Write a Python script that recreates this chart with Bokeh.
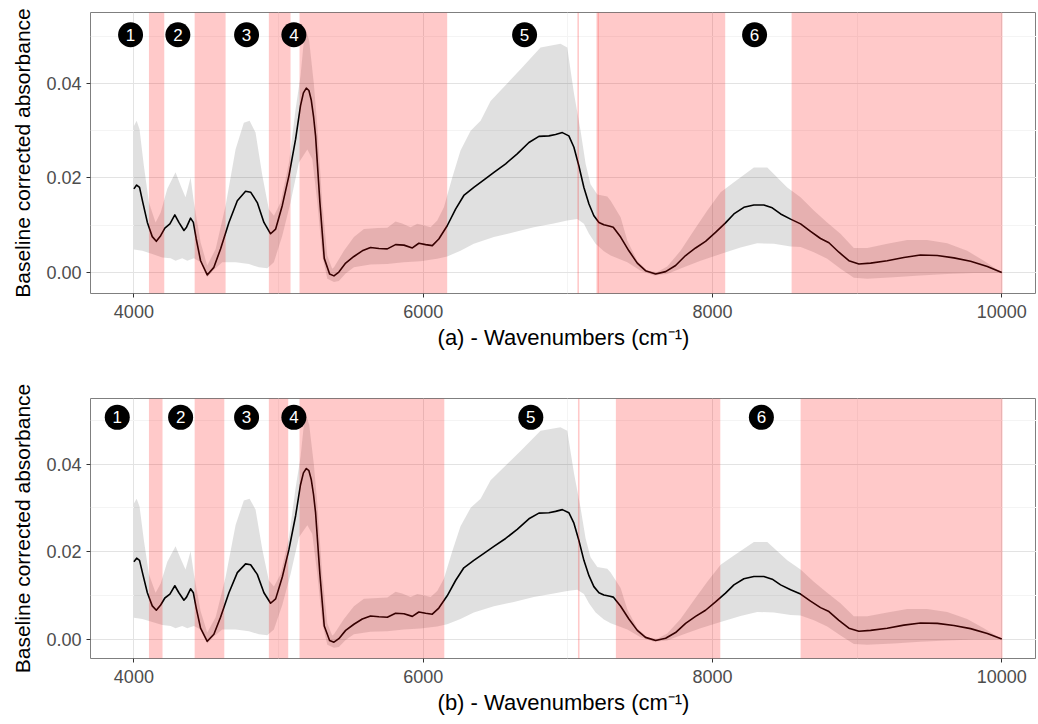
from bokeh.plotting import figure
from bokeh.models import Range1d, FixedTicker, PrintfTickFormatter, BoxAnnotation
from bokeh.layouts import column
from bokeh.embed import file_html
from bokeh.resources import INLINE
from bokeh.core.properties import value

# ---------------- data ----------------
mean_x = [4000, 4019, 4039, 4062, 4093, 4127, 4155, 4185, 4214, 4249, 4283, 4311, 4346, 4364,
          4392, 4411, 4431, 4461, 4507, 4553, 4599, 4657, 4715, 4772, 4807, 4853, 4899, 4945,
          4980, 5026, 5072, 5118, 5152, 5172, 5192, 5210, 5226, 5242, 5256, 5286, 5316, 5353,
          5383, 5417, 5464, 5521, 5579, 5636, 5694, 5752, 5809, 5867, 5925, 5970, 6017, 6063,
          6108, 6166, 6224, 6281, 6350, 6420, 6489, 6570, 6650, 6731, 6800, 6869, 6915, 6962,
          7007, 7042, 7076, 7111, 7146, 7180, 7215, 7249, 7291, 7314, 7365, 7422, 7480, 7537,
          7607, 7676, 7745, 7814, 7883, 7952, 8021, 8090, 8148, 8217, 8286, 8355, 8413, 8471,
          8540, 8609, 8678, 8747, 8805, 8874, 8943, 9012, 9093, 9208, 9323, 9438, 9554, 9669,
          9784, 9900, 10000]
mean_y = [0.0177, 0.0185, 0.0180, 0.0148, 0.0106, 0.0076, 0.0066, 0.0078, 0.0094, 0.0103, 0.0122,
          0.0106, 0.0089, 0.0096, 0.0115, 0.0106, 0.0071, 0.0025, -0.0005, 0.0011, 0.0050, 0.0106,
          0.0152, 0.0172, 0.0170, 0.0148, 0.0106, 0.0082, 0.0092, 0.0142, 0.0205, 0.0282, 0.0353,
          0.0380, 0.0390, 0.0385, 0.0365, 0.0330, 0.0289, 0.0148, 0.0030, -0.0003, -0.0007, 0.0001,
          0.0020, 0.0034, 0.0046, 0.0053, 0.0051, 0.0050, 0.0059, 0.0058, 0.0052, 0.0062, 0.0059,
          0.0057, 0.0071, 0.0099, 0.0134, 0.0163, 0.0180, 0.0196, 0.0212, 0.0230, 0.0251, 0.0275,
          0.0288, 0.0289, 0.0292, 0.0296, 0.0289, 0.0265, 0.0226, 0.0180, 0.0145, 0.0120, 0.0106,
          0.0101, 0.0098, 0.0096, 0.0075, 0.0046, 0.0020, 0.0004, -0.0003, 0.0002, 0.0015, 0.0036,
          0.0052, 0.0066, 0.0085, 0.0105, 0.0124, 0.0138, 0.0143, 0.0143, 0.0137, 0.0124, 0.0113,
          0.0103, 0.0087, 0.0072, 0.0063, 0.0043, 0.0025, 0.0018, 0.0020, 0.0025, 0.0032, 0.0037,
          0.0036, 0.0031, 0.0024, 0.0013, 0.0000]

upper_x = [4000, 4019, 4039, 4069, 4104, 4150, 4185, 4231, 4288, 4323, 4357, 4392, 4415, 4461,
           4507, 4565, 4634, 4703, 4760, 4800, 4841, 4888, 4933, 4968, 5014, 5072, 5118, 5152,
           5175, 5192, 5212, 5244, 5268, 5302, 5337, 5371, 5383, 5452, 5521, 5590, 5683, 5752,
           5809, 5855, 5913, 5959, 6005, 6051, 6097, 6143, 6201, 6258, 6328, 6397, 6466, 6673,
           6811, 6949, 6996, 7042, 7088, 7123, 7157, 7204, 7273, 7296, 7365, 7411, 7480, 7549,
           7618, 7687, 7779, 7871, 7964, 8056, 8148, 8286, 8379, 8517, 8609, 8701, 8793, 8885,
           8977, 9070, 9208, 9346, 9485, 9623, 9761, 9876, 10000]
upper_y = [0.0310, 0.0321, 0.0303, 0.0226, 0.0148, 0.0106, 0.0127, 0.0177, 0.0212, 0.0184, 0.0159,
           0.0201, 0.0148, 0.0064, 0.0015, 0.0050, 0.0142, 0.0261, 0.0317, 0.0321, 0.0296, 0.0205,
           0.0134, 0.0120, 0.0148, 0.0233, 0.0346, 0.0416, 0.0490, 0.0511, 0.0490, 0.0400, 0.0310,
           0.0148, 0.0036, 0.0008, 0.0011, 0.0046, 0.0075, 0.0092, 0.0094, 0.0095, 0.0108, 0.0104,
           0.0096, 0.0103, 0.0100, 0.0096, 0.0110, 0.0138, 0.0201, 0.0258, 0.0300, 0.0321, 0.0363,
           0.0430, 0.0476, 0.0484, 0.0476, 0.0380, 0.0300, 0.0230, 0.0187, 0.0165, 0.0161, 0.0152,
           0.0117, 0.0068, 0.0025, 0.0004, 0.0001, 0.0013, 0.0046, 0.0089, 0.0131, 0.0170, 0.0191,
           0.0222, 0.0222, 0.0180, 0.0159, 0.0131, 0.0106, 0.0082, 0.0052, 0.0052, 0.0061, 0.0069,
           0.0069, 0.0062, 0.0046, 0.0025, 0.0000]

lower_x = [4000, 4058, 4127, 4196, 4254, 4288, 4334, 4369, 4415, 4461, 4507, 4553, 4611, 4703,
           4795, 4864, 4922, 4968, 5026, 5083, 5141, 5199, 5233, 5268, 5302, 5337, 5383, 5417,
           5464, 5521, 5636, 5752, 5867, 5982, 6097, 6166, 6258, 6350, 6489, 6627, 6765, 6903,
           6996, 7065, 7111, 7146, 7192, 7249, 7296, 7411, 7503, 7595, 7687, 7802, 7918, 8056,
           8194, 8309, 8424, 8540, 8609, 8701, 8793, 8885, 8977, 9070, 9254, 9438, 9623, 9807,
           10000]
lower_y = [0.0049, 0.0046, 0.0039, 0.0032, 0.0030, 0.0025, 0.0030, 0.0025, 0.0030, 0.0022, -0.0010,
           0.0006, 0.0022, 0.0022, 0.0018, 0.0011, 0.0009, 0.0022, 0.0078, 0.0148, 0.0233, 0.0260,
           0.0240, 0.0148, 0.0036, -0.0013, -0.0020, -0.0018, -0.0002, 0.0011, 0.0017, 0.0018,
           0.0022, 0.0024, 0.0029, 0.0034, 0.0046, 0.0061, 0.0075, 0.0085, 0.0096, 0.0104, 0.0110,
           0.0113, 0.0103, 0.0082, 0.0061, 0.0045, 0.0036, 0.0022, 0.0004, -0.0006, -0.0003, 0.0011,
           0.0025, 0.0039, 0.0053, 0.0062, 0.0061, 0.0055, 0.0054, 0.0043, 0.0029, 0.0008, -0.0011,
           -0.0013, -0.0010, -0.0006, -0.0003, -0.0001, -0.0001]

a_region_start = [4104, 4420, 4933, 5145, 7066, 7198, 7207, 8547]
a_region_end = [4210, 4634, 5083, 6166, 7077, 8088, 7214, 10005]
b_region_start = [4104, 4420, 4933, 5145, 7070, 7332, 8609]
b_region_end = [4198, 4625, 5067, 6146, 7081, 8054, 10005]

label_text = ["1", "2", "3", "4", "5", "6"]
a_label_x = [3977, 4304, 4779, 5106, 6701, 8291]
a_label_y = [0.0503] * 6
b_label_x = [3885, 4323, 4779, 5106, 6744, 8338]
b_label_y = [0.0507] * 6

x_ticks = [4000, 6000, 8000, 10000]
x_minor = [5000, 7000, 9000]
y_ticks = [0.0, 0.02, 0.04]
y_minor = [0.01, 0.03, 0.05]

x_label_a = "(a) - Wavenumbers (cm\u207b\u00b9)"
x_label_b = "(b) - Wavenumbers (cm\u207b\u00b9)"
y_label = "Baseline corrected absorbance"

FONT = "Liberation Sans"


def make_panel(starts, ends, lx, ly, xlabel, frame_h, top_b, bottom_b):
    p = figure(frame_width=946, frame_height=frame_h,
               min_border_left=90, min_border_right=0,
               min_border_top=top_b, min_border_bottom=bottom_b,
               x_range=Range1d(3700, 10240), y_range=Range1d(-0.00443, 0.0550),
               output_backend="svg", toolbar_location=None)
    p.background_fill_color = "white"
    p.border_fill_color = "white"
    p.outline_line_color = "#7f7f7f"
    p.outline_line_width = 1

    # ribbon (grey, translucent black)
    px = list(upper_x) + list(reversed(lower_x))
    py = list(upper_y) + list(reversed(lower_y))
    p.patch(px, py, fill_color="black", fill_alpha=0.12, line_color=None)
    # mean line
    p.line(mean_x, mean_y, line_color="black", line_width=1.6, line_join="round")

    # uninformative regions (drawn on top, translucent red)
    for s, e in zip(starts, ends):
        p.add_layout(BoxAnnotation(left=s, right=e, fill_color="#ff0000", fill_alpha=0.21,
                                   line_color=None))

    # numbered markers
    p.scatter(lx, ly, size=25, marker="circle", fill_color="black", line_color=None,
              level="overlay")
    p.text(lx, ly, text=label_text, text_color="white", text_align="center",
           text_baseline="middle", text_font=value(FONT), text_font_size="17px",
           level="overlay")

    for ax in (p.xaxis[0], p.yaxis[0]):
        ax.axis_line_color = None
        ax.major_tick_line_color = "#333333"
        ax.major_tick_in = 0
        ax.major_tick_out = 4
        ax.minor_tick_line_color = None
        ax.major_label_text_font = FONT
        ax.major_label_text_font_size = "18px"
        ax.major_label_text_color = "#4d4d4d"
        ax.axis_label_text_font = FONT
        ax.axis_label_text_font_size = "22px"
        ax.axis_label_text_font_style = "normal"
        ax.axis_label_text_color = "black"
    p.yaxis.axis_label_text_font_size = "21px"

    p.xaxis.ticker = FixedTicker(ticks=x_ticks, minor_ticks=x_minor)
    p.yaxis.ticker = FixedTicker(ticks=y_ticks, minor_ticks=y_minor)
    p.xaxis.formatter = PrintfTickFormatter(format="%d")
    p.yaxis.formatter = PrintfTickFormatter(format="%.2f")
    p.xaxis.axis_label = xlabel
    p.yaxis.axis_label = y_label
    p.xaxis.major_label_standoff = 7
    p.xaxis.axis_label_standoff = 4
    p.yaxis.major_label_standoff = 5
    p.yaxis.axis_label_standoff = 9

    for g in (p.xgrid[0], p.ygrid[0]):
        g.grid_line_color = "#e3e3e3"
        g.grid_line_width = 1
        g.minor_grid_line_color = "#f4f4f4"
        g.minor_grid_line_width = 1
    return p


p1 = make_panel(a_region_start, a_region_end, a_label_x, a_label_y, x_label_a, 281, 12, 85)
p2 = make_panel(b_region_start, b_region_end, b_label_x, b_label_y, x_label_b, 260, 20, 62)

layout = column(p1, p2, spacing=0)
open("out.html", "w").write(file_html(layout, INLINE))
